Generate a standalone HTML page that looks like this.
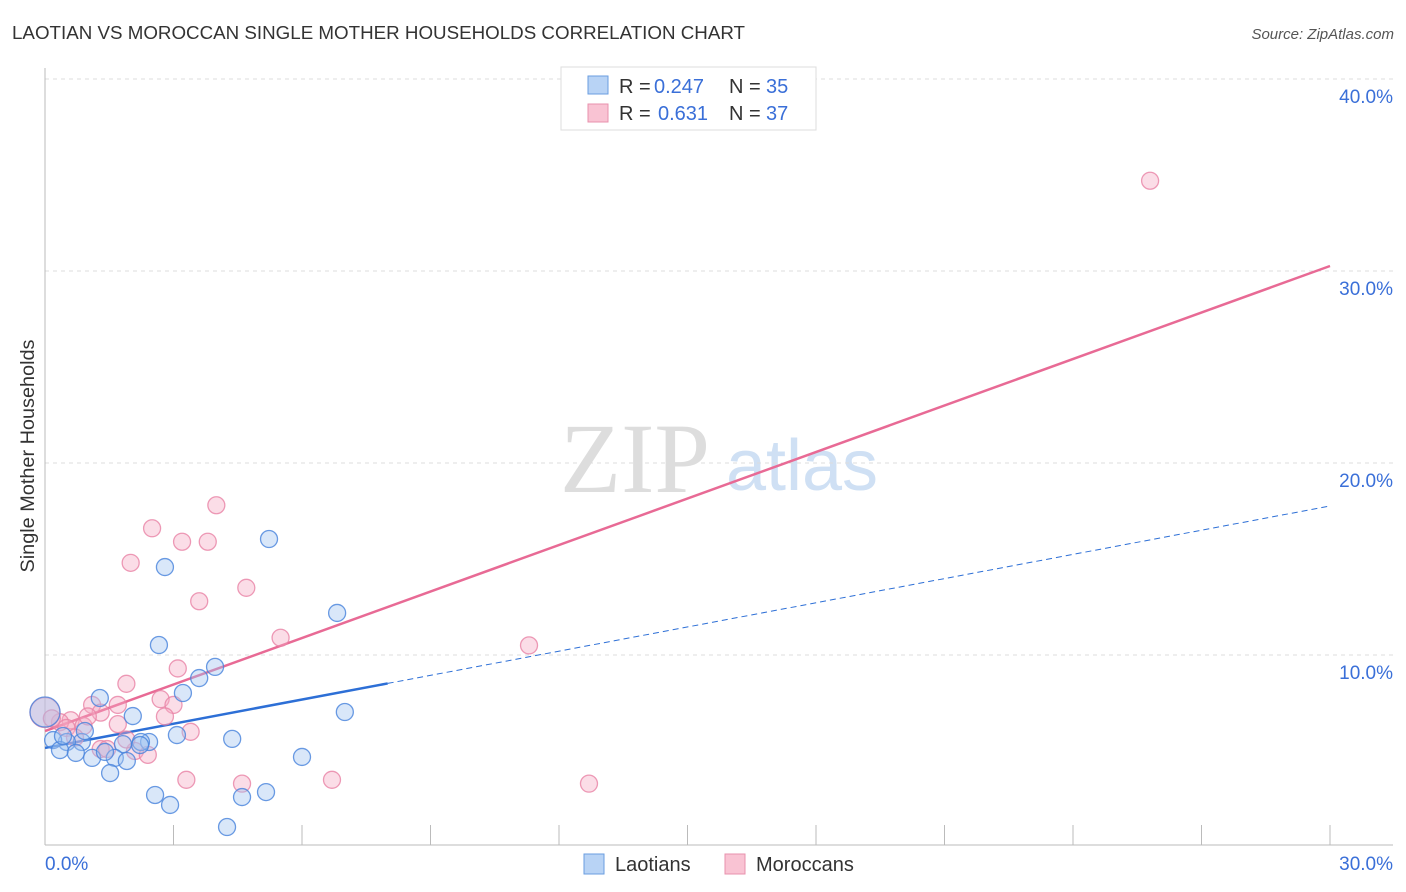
<!DOCTYPE html>
<html><head><meta charset="utf-8"><style>
body{margin:0;background:#fff;font-family:"Liberation Sans",sans-serif;}
svg{display:block}
</style></head><body>
<svg id="chart" width="1406" height="892">
<text x="12" y="39" font-size="18" fill="#333" textLength="733" lengthAdjust="spacingAndGlyphs">LAOTIAN VS MOROCCAN SINGLE MOTHER HOUSEHOLDS CORRELATION CHART</text>
<text x="1394" y="39" font-size="15" fill="#555" text-anchor="end" font-style="italic">Source: ZipAtlas.com</text>
<text x="34" y="456" font-size="19" fill="#333" text-anchor="middle" transform="rotate(-90 34 456)" textLength="233" lengthAdjust="spacingAndGlyphs">Single Mother Households</text>
<g><text x="635" y="492" font-size="100" fill="#ddd" font-family="Liberation Serif,serif" text-anchor="middle">ZIP</text><text x="802" y="490" font-size="72" fill="#cfe0f4" text-anchor="middle">atlas</text></g>
<g id="grid"></g><g id="axes"></g><g id="lines"></g><g id="pts"></g>
<g>
<rect x="561" y="67" width="255" height="63" fill="#fff" stroke="#ddd"/>
<rect x="588" y="76" width="20" height="18" fill="#b8d3f5" stroke="#6a9ee0"/>
<rect x="588" y="104" width="20" height="18" fill="#f9c3d3" stroke="#e891ad"/>
<text y="93" font-size="20" fill="#333"><tspan x="619">R =</tspan><tspan x="654" fill="#3a6fd8">0.247</tspan><tspan x="729">N =</tspan><tspan x="766" fill="#3a6fd8">35</tspan></text>
<text y="120" font-size="20" fill="#333"><tspan x="619">R =</tspan><tspan x="658" fill="#3a6fd8">0.631</tspan><tspan x="729">N =</tspan><tspan x="766" fill="#3a6fd8">37</tspan></text>
</g>
<g>
<rect x="584" y="854" width="20" height="20" fill="#b8d3f5" stroke="#6a9ee0"/>
<text x="615" y="871" font-size="20" fill="#333">Laotians</text>
<rect x="725" y="854" width="20" height="20" fill="#f9c3d3" stroke="#e891ad"/>
<text x="756" y="871" font-size="20" fill="#333">Moroccans</text>
</g>
</svg>
<script>
const yTicks=[10,20,30,40];
const xTickLabels=["0.0%","30.0%"];
const laoX=[5.23,2.80,6.82,2.66,3.97,3.60,3.22,1.28,2.05,7.00,3.08,4.37,2.43,2.24,1.82,0.86,0.51,0.19,0.35,0.72,1.10,1.63,1.91,6.00,1.52,2.57,2.92,4.60,5.16,4.25,0.0,0.93,0.42,1.40,2.22];
const laoY=[16.04,14.58,12.19,10.52,9.38,8.80,8.02,7.76,6.82,7.03,5.83,5.63,5.47,5.47,5.36,5.47,5.47,5.57,5.05,4.90,4.64,4.64,4.48,4.69,3.85,2.71,2.19,2.60,2.86,1.04,7.03,6.04,5.78,4.95,5.31];
const marX=[25.8,4.0,2.5,3.2,3.8,2.0,4.7,3.6,5.5,11.3,3.1,1.9,2.7,3.0,1.1,1.7,1.3,2.8,3.4,1.7,0.6,0.9,0.35,0.5,1.3,2.1,2.4,1.45,3.3,4.6,6.7,12.7,0.0,0.16,1.0,1.9,0.7];
const marY=[34.7,17.8,16.6,15.9,15.9,14.8,13.5,12.8,10.9,10.5,9.3,8.5,7.7,7.4,7.4,7.4,7.0,6.8,6.0,6.4,6.6,6.3,6.5,6.2,5.1,5.0,4.8,5.1,3.5,3.3,3.5,3.3,7.0,6.7,6.8,5.6,5.7];
const laoLine=[5.16,17.76], marLine=[6.04,30.26];
const NS="http://www.w3.org/2000/svg";
const X=v=>45+v/30*1285, Y=v=>847-v*19.2;
function mk(t,a,p){const e=document.createElementNS(NS,t);for(const k in a)e.setAttribute(k,a[k]);p.appendChild(e);return e;}
const grid=document.getElementById('grid'),axes=document.getElementById('axes'),lines=document.getElementById('lines'),pts=document.getElementById('pts');
yTicks.forEach(t=>{const l=mk('line',{x1:45,x2:1393,y1:Y(t),y2:Y(t),stroke:'#ddd','stroke-dasharray':'4,4'},grid);


const tx=mk('text',{x:1393,y:Y(t)+24,'font-size':19,fill:'#3a6fd8','text-anchor':'end'},axes);tx.textContent=t.toFixed(1)+'%';

});
mk('line',{x1:45,x2:45,y1:68,y2:845,stroke:'#bbb'},axes);
mk('line',{x1:45,x2:1393,y1:845,y2:845,stroke:'#bbb'},axes);
for(let i=0;i<=10;i++){const tk=mk('line',{x1:X(i*3),x2:X(i*3),y1:825,y2:845,stroke:'#bbb'},axes);

}
const xl0=mk('text',{x:45,y:870,'font-size':19,fill:'#3a6fd8'},axes);xl0.textContent=xTickLabels[0];


const xl1=mk('text',{x:1393,y:870,'font-size':19,fill:'#3a6fd8','text-anchor':'end'},axes);xl1.textContent=xTickLabels[1];


function pt(x,y,r,f,s,name){const c=mk('circle',{cx:X(x),cy:Y(y),r:r,fill:f,stroke:s,'stroke-width':1.3},pts);

}
marX.forEach((x,i)=>pt(x,marY[i],i==32?15:8.5,'rgba(246,170,195,0.4)','rgba(232,130,165,0.8)','point-moroccan'));
laoX.forEach((x,i)=>pt(x,laoY[i],i==30?15:8.5,'rgba(160,195,240,0.4)','rgba(70,130,220,0.8)','point-laotian'));
const xs=8;const bl=laoLine[0]+(laoLine[1]-laoLine[0])*xs/30;
const l1=mk('line',{x1:X(0),y1:Y(laoLine[0]),x2:X(xs),y2:Y(bl),stroke:'#2d6fd6','stroke-width':2.5},lines);


const l2=mk('line',{x1:X(xs),y1:Y(bl),x2:X(30),y2:Y(laoLine[1]),stroke:'#2d6fd6','stroke-width':1,'stroke-dasharray':'6,4'},lines);


const l3=mk('line',{x1:X(0),y1:Y(marLine[0]),x2:X(30),y2:Y(marLine[1]),stroke:'#e86a95','stroke-width':2.5},lines);


</script>
</body></html>
